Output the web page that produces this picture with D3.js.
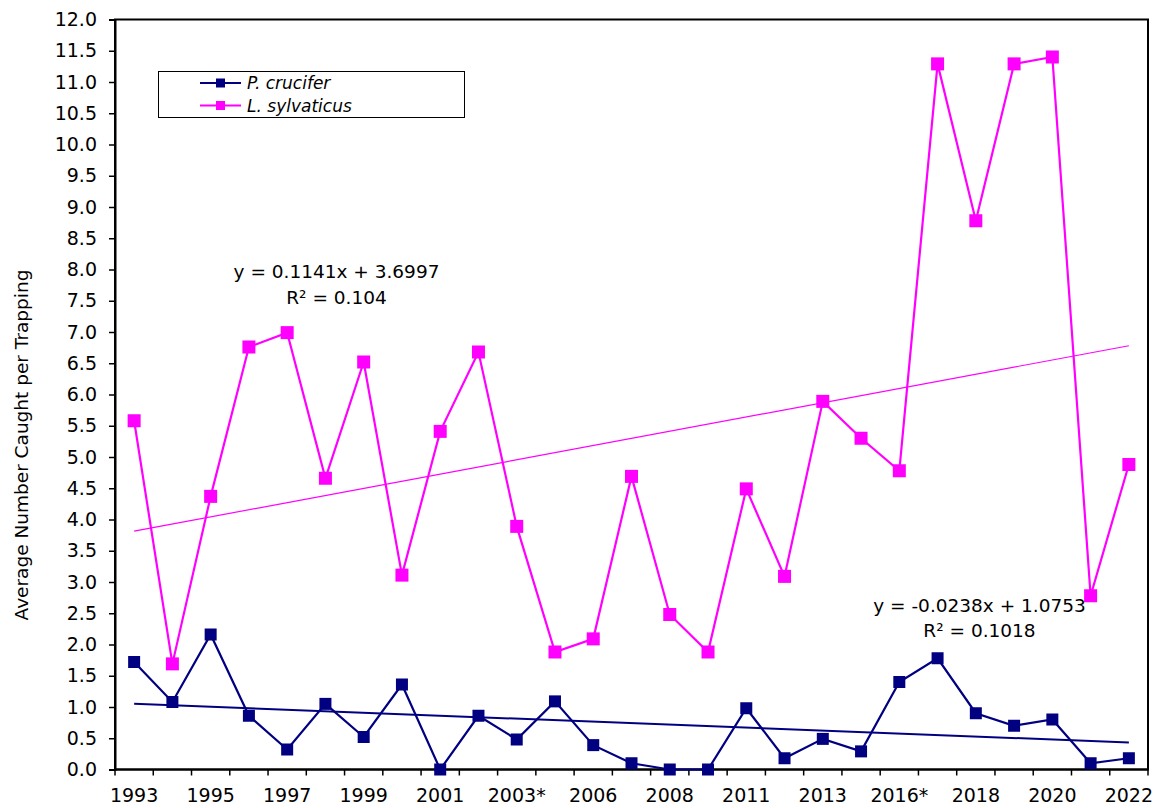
<!DOCTYPE html>
<html>
<head>
<meta charset="utf-8">
<script src="https://cdn.jsdelivr.net/npm/d3@7"></script>
<style>
  html, body { margin: 0; padding: 0; background: #fff; }
  svg { display: block; font-family: "DejaVu Sans", Verdana, sans-serif; }
</style>
</head>
<body>
<svg id="chart" width="1156" height="808"></svg>
<script>
// ---- data ----
const categories = ["1993","1994","1995","1996","1997","1998","1999","2000","2001","2002",
  "2003*","2005","2006","2007","2008","2009","2011","2012","2013","2014",
  "2016*","2017","2018","2019","2020","2021","2022"];
const tickLabels = ["1993","1995","1997","1999","2001","2003*","2006","2008","2011","2013","2016*","2018","2020","2022"];
const crucifer = [1.72,1.08,2.16,0.86,0.32,1.05,0.52,1.36,0.0,0.86,
  0.48,1.09,0.39,0.10,0.0,0.0,0.98,0.18,0.49,0.29,
  1.40,1.78,0.90,0.70,0.80,0.10,0.18];
const sylvaticus = [5.58,1.69,4.37,6.76,6.99,4.66,6.52,3.11,5.41,6.68,
  3.89,1.88,2.09,4.69,2.48,1.88,4.49,3.09,5.89,5.30,
  4.78,11.29,8.78,11.29,11.40,2.78,4.88];
const seriesNames = ["P. crucifer", "L. sylvaticus"];
const trendSlopes = [-0.0238, 0.1141];
const trendIntercepts = [1.0753, 3.6997];
const trendEquations = ["y = -0.0238x + 1.0753", "y = 0.1141x + 3.6997"];
const trendR2 = ["R\u00B2 = 0.1018", "R\u00B2 = 0.104"];
const yTicks = d3.range(0, 12.01, 0.5);
const yAxisTitle = "Average Number Caught per Trapping";

// ---- layout ----
const colors = ["#000080", "#FF00FF"];
const markerSize = [12, 13];
const plot = { left: 115, right: 1148, top: 19.5, bottom: 769.5 };

const svg = d3.select("#chart");
const x = d3.scaleBand().domain(categories).range([plot.left, plot.right]).paddingInner(0).paddingOuter(0);
const y = d3.scaleLinear().domain([0, 12]).range([plot.bottom, plot.top]);
const cx = c => x(c) + x.bandwidth() / 2;

// frame (top + right)
svg.append("rect")
  .attr("x", plot.left).attr("y", plot.top)
  .attr("width", plot.right - plot.left).attr("height", plot.bottom - plot.top)
  .attr("fill", "none").attr("stroke", "#000").attr("stroke-width", 2);

// y axis
const yAxis = d3.axisLeft(y).tickValues(yTicks).tickFormat(d3.format(".1f")).tickSizeOuter(0).tickSize(6).tickPadding(12);
const gy = svg.append("g").attr("transform", `translate(${plot.left},0)`).call(yAxis);
gy.select(".domain").attr("stroke-width", 2);
gy.selectAll(".tick line").attr("stroke-width", 1.5);
gy.selectAll("text").attr("font-size", 19).attr("font-family", "DejaVu Sans, Verdana, sans-serif").attr("fill", "#000");

// x axis: ticks at every category boundary
const boundaries = d3.range(categories.length + 1).map(i => plot.left + i * x.bandwidth());
const gx = svg.append("g");
gx.append("line").attr("x1", plot.left).attr("x2", plot.right).attr("y1", plot.bottom).attr("y2", plot.bottom)
  .attr("stroke", "#000").attr("stroke-width", 2);
gx.selectAll("line.tk").data(boundaries).enter().append("line").attr("class", "tk")
  .attr("x1", d => d).attr("x2", d => d).attr("y1", plot.bottom).attr("y2", plot.bottom + 6)
  .attr("stroke", "#000").attr("stroke-width", 1.5);
gx.selectAll("text").data(categories.filter(c => tickLabels.includes(c))).enter().append("text")
  .attr("x", d => cx(d)).attr("y", 802).attr("text-anchor", "middle")
  .attr("font-size", 19).attr("fill", "#000").text(d => d);

// y axis title
svg.append("text")
  .attr("transform", `translate(28,445) rotate(-90)`)
  .attr("text-anchor", "middle").attr("font-size", 18.5).attr("fill", "#000").text(yAxisTitle);

// trendlines
const allSeries = [crucifer, sylvaticus];
[0, 1].forEach(i => {
  const n = categories.length;
  svg.append("line")
    .attr("x1", cx(categories[0])).attr("y1", y(trendSlopes[i] * 1 + trendIntercepts[i]))
    .attr("x2", cx(categories[n - 1])).attr("y2", y(trendSlopes[i] * n + trendIntercepts[i]))
    .attr("stroke", colors[i]).attr("stroke-width", i === 0 ? 2 : 1.2);
});

// series lines + markers (magenta drawn first so blue sits on top)
[1, 0].forEach(i => {
  const data = allSeries[i].map((v, k) => ({ c: categories[k], v }));
  svg.append("path").datum(data)
    .attr("d", d3.line().x(d => cx(d.c)).y(d => y(d.v)))
    .attr("fill", "none").attr("stroke", colors[i]).attr("stroke-width", 2.2);
  const s = markerSize[i];
  svg.selectAll(null).data(data).enter().append("rect")
    .attr("x", d => cx(d.c) - s / 2).attr("y", d => y(d.v) - s / 2)
    .attr("width", s).attr("height", s).attr("fill", colors[i]);
});

// trend equations
const eqPos = [{ x: 979.5, y1: 611.5, y2: 636.5 }, { x: 336.5, y1: 278, y2: 304 }];
[0, 1].forEach(i => {
  svg.append("text").attr("x", eqPos[i].x).attr("y", eqPos[i].y1).attr("text-anchor", "middle")
    .attr("font-size", 18.5).attr("fill", "#000").text(trendEquations[i]);
  svg.append("text").attr("x", eqPos[i].x).attr("y", eqPos[i].y2).attr("text-anchor", "middle")
    .attr("font-size", 18.5).attr("fill", "#000").text(trendR2[i]);
});

// legend
const lg = svg.append("g");
lg.append("rect").attr("x", 158.5).attr("y", 71.5).attr("width", 306).attr("height", 46)
  .attr("fill", "#fff").attr("stroke", "#000").attr("stroke-width", 1);
seriesNames.forEach((name, i) => {
  const ly = 83 + i * 22.5;
  lg.append("line").attr("x1", 200).attr("x2", 241).attr("y1", ly).attr("y2", ly)
    .attr("stroke", colors[i]).attr("stroke-width", 2);
  lg.append("rect").attr("x", 220.5 - 4.5).attr("y", ly - 4.5).attr("width", 9).attr("height", 9).attr("fill", colors[i]);
  lg.append("text").attr("x", 247).attr("y", ly + 6).attr("font-size", 17).attr("font-style", "italic")
    .attr("fill", "#000").text(name);
});
</script>
</body>
</html>
